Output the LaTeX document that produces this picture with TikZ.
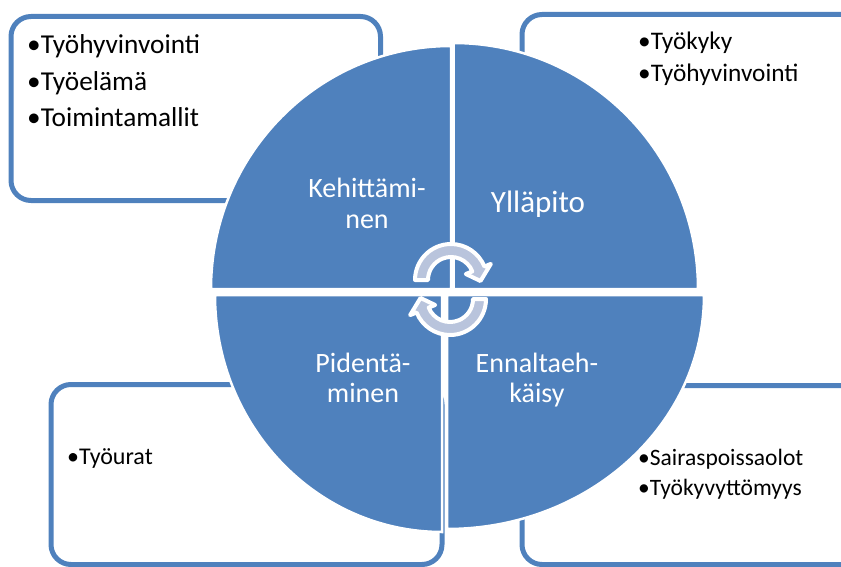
\documentclass[tikz,border=0pt]{standalone}
\usepackage{fontspec}
\setmainfont{Carlito}
\definecolor{accent}{HTML}{4F81BD}
\definecolor{arrowfill}{HTML}{B9C4DC}
\begin{document}
\begin{tikzpicture}[x=1pt,y=1pt,yscale=-1,
  box/.style={draw=accent, line width=5pt, rounded corners=20pt, fill=white},
  openbox/.style={draw=accent, line width=5pt, rounded corners=20pt},
  quad/.style={fill=accent, draw=white, line width=2.5pt},
  cyc/.style={fill=arrowfill, draw=white, line width=4pt, line join=round},
  item/.style={anchor=base west, inner sep=0pt, text=black},
  lbl/.style={anchor=base, inner sep=0pt, text=white, font=\fontsize{28}{30}\selectfont}]
\useasboundingbox (0,0) rectangle (841,567);
\clip (0,0) rectangle (841,567);

% corner boxes (the two on the right run past the page edge)
\draw[box] (11,16.5) rectangle (380.5,200.5);
\draw[box] (51,384.5) rectangle (442,564.5);
\draw[openbox] (880,14.5) -- (522,14.5) -- (522,260);
\draw[openbox] (880,385.5) -- (522,385.5) -- (522,564.5) -- (880,564.5);

% four quarter pies
\path[quad] (451,289) -- (211,289) arc[start angle=180, end angle=270, x radius=240, y radius=243] -- cycle;
\path[quad] (453.5,289) -- (453.5,43) arc[start angle=270, end angle=360, x radius=244.5, y radius=246] -- cycle;
\path[quad] (447,295) -- (704,295) arc[start angle=0, end angle=90, x radius=257, y radius=234] -- cycle;
\path[quad] (442,295) -- (442,532) arc[start angle=90, end angle=180, x radius=227, y radius=237] -- cycle;

% circular arrows in the middle
\begin{scope}[shift={(451,280)}]
  \path[cyc] (180:36) arc[start angle=180, end angle=338, radius=36]
    -- (338:43) -- (2:29.5) -- (338:16) -- (338:23)
    arc[start angle=338, end angle=180, radius=23] -- cycle;
\end{scope}
\begin{scope}[shift={(450,299)}]
  \path[cyc] (0:36) arc[start angle=0, end angle=158, radius=36]
    -- (158:43) -- (182:29.5) -- (158:16) -- (158:23)
    arc[start angle=158, end angle=0, radius=23] -- cycle;
\end{scope}

% quadrant labels
\node[lbl] (k1) at (367,197) {Kehittämi-};
\node[lbl] (k2) at (367,228) {nen};
\node[lbl, font=\fontsize{31}{33}\selectfont] (y1) at (538,212) {Ylläpito};
\node[lbl] (p1) at (363,372) {Pidentä-};
\node[lbl] (p2) at (363,402) {minen};
\node[lbl] (e1) at (537,372) {Ennaltaeh-};
\node[lbl] (e2) at (537,402) {käisy};

% bullet lists
\begin{scope}[every node/.append style={font=\fontsize{27.3}{32}\selectfont}]
  \node[item] (tl1) at (27,54) {•Työhyvinvointi};
  \node[item] (tl2) at (27,91) {•Työelämä};
  \node[item] (tl3) at (27,127) {•Toimintamallit};
\end{scope}
\begin{scope}[every node/.append style={font=\fontsize{25.3}{30}\selectfont}]
  \node[item] (tr1) at (638,50) {•Työkyky};
  \node[item] (tr2) at (638,82) {•Työhyvinvointi};
\end{scope}
\begin{scope}[every node/.append style={font=\fontsize{24}{28}\selectfont}]
  \node[item] (bl1) at (67,464) {•Työurat};
\end{scope}
\begin{scope}[every node/.append style={font=\fontsize{23.5}{28}\selectfont}]
  \node[item] (br1) at (638,465) {•Sairaspoissaolot};
  \node[item] (br2) at (638,495) {•Työkyvyttömyys};
\end{scope}
\end{tikzpicture}
\end{document}
